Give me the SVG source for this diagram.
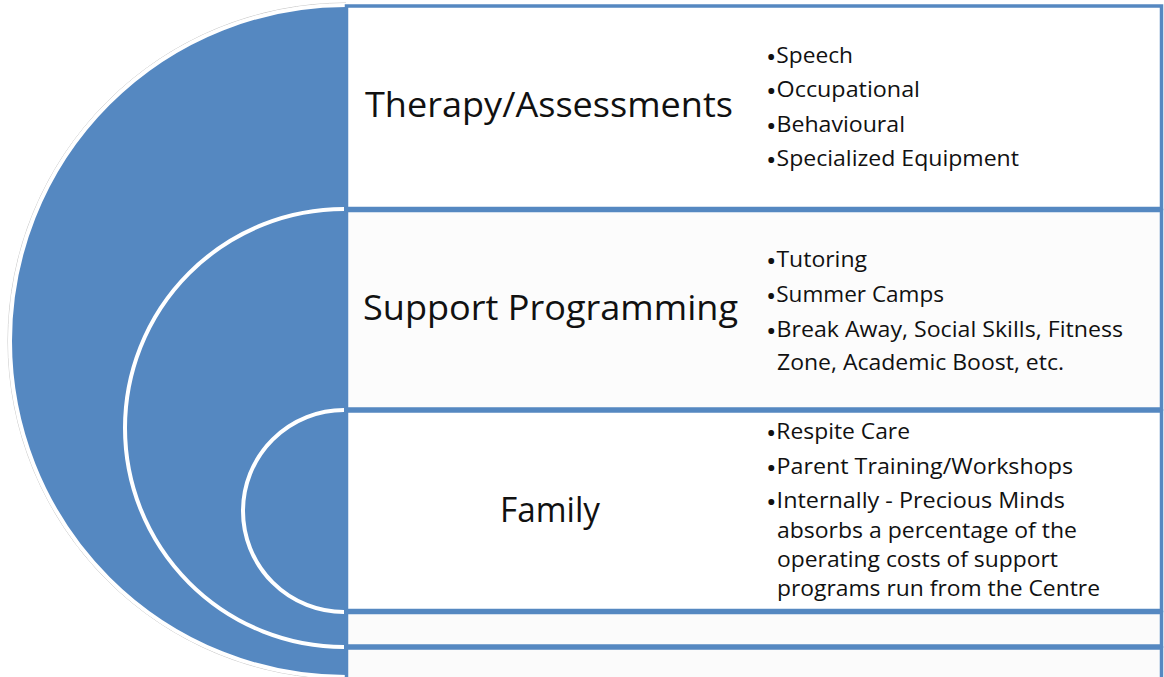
<svg xmlns="http://www.w3.org/2000/svg" width="1164" height="677" viewBox="0 0 1164 677">
<style>
.box{stroke:#5588c1;stroke-width:3.5}
.arc{fill:none;stroke:#ffffff;stroke-width:4;stroke-linecap:butt}
.title{font-family:"Open Sans","Noto Sans",sans-serif;font-size:35px;fill:#111}
.item{font-family:"Open Sans","Noto Sans",sans-serif;font-size:21.5px;fill:#111}
.b{font-size:26px}
</style>
<rect width="1164" height="677" fill="#ffffff"/>
<g id="disc">
<path d="M346,5 A336,336 0 0 0 346,677 Z" fill="#5588c1"/>
<path d="M346,3 A338,338 0 0 0 346,679" fill="none" stroke="#c8c8c8" stroke-width="1"/>
<path d="M346,5 A336,336 0 0 0 346,677" class="arc" stroke-width="3"/>
<path d="M344,209 A219,219 0 0 0 344,647" class="arc"/>
<path d="M344,410 A101,101 0 0 0 344,612" class="arc"/>
</g>
<g id="therapy">
<rect class="box" x="346.5" y="6" width="815" height="202.5" fill="#ffffff"/>
<text class="title" x="365" y="117" textLength="368" lengthAdjust="spacingAndGlyphs">Therapy/Assessments</text>
<text class="item" x="766" y="63" textLength="87" lengthAdjust="spacingAndGlyphs"><tspan class="b" dy="2.5">•</tspan><tspan dy="-2.5">Speech</tspan></text>
<text class="item" x="766" y="97" textLength="154" lengthAdjust="spacingAndGlyphs"><tspan class="b" dy="2.5">•</tspan><tspan dy="-2.5">Occupational</tspan></text>
<text class="item" x="766" y="132" textLength="139" lengthAdjust="spacingAndGlyphs"><tspan class="b" dy="2.5">•</tspan><tspan dy="-2.5">Behavioural</tspan></text>
<text class="item" x="766" y="166" textLength="253" lengthAdjust="spacingAndGlyphs"><tspan class="b" dy="2.5">•</tspan><tspan dy="-2.5">Specialized Equipment</tspan></text>
</g>
<g id="support">
<rect class="box" x="346.5" y="210.5" width="815" height="198.5" fill="#fcfcfc"/>
<text class="title" x="363" y="320" textLength="375" lengthAdjust="spacingAndGlyphs">Support Programming</text>
<text class="item" x="766" y="267" textLength="101" lengthAdjust="spacingAndGlyphs"><tspan class="b" dy="2.5">•</tspan><tspan dy="-2.5">Tutoring</tspan></text>
<text class="item" x="766" y="302" textLength="178" lengthAdjust="spacingAndGlyphs"><tspan class="b" dy="2.5">•</tspan><tspan dy="-2.5">Summer Camps</tspan></text>
<text class="item" x="766" y="337" textLength="357" lengthAdjust="spacingAndGlyphs"><tspan class="b" dy="2.5">•</tspan><tspan dy="-2.5">Break Away, Social Skills, Fitness</tspan></text>
<text class="item" x="777" y="370" textLength="287" lengthAdjust="spacingAndGlyphs">Zone, Academic Boost, etc.</text>
</g>
<g id="family">
<rect class="box" x="346.5" y="411" width="815" height="199.5" fill="#ffffff"/>
<text class="title" x="500" y="522" textLength="100" lengthAdjust="spacingAndGlyphs">Family</text>
<text class="item" x="766" y="439" textLength="144" lengthAdjust="spacingAndGlyphs"><tspan class="b" dy="2.5">•</tspan><tspan dy="-2.5">Respite Care</tspan></text>
<text class="item" x="766" y="474" textLength="307" lengthAdjust="spacingAndGlyphs"><tspan class="b" dy="2.5">•</tspan><tspan dy="-2.5">Parent Training/Workshops</tspan></text>
<text class="item" x="766" y="508" textLength="299" lengthAdjust="spacingAndGlyphs"><tspan class="b" dy="2.5">•</tspan><tspan dy="-2.5">Internally -  Precious Minds</tspan></text>
<text class="item" x="777" y="538" textLength="300" lengthAdjust="spacingAndGlyphs">absorbs a percentage of the</text>
<text class="item" x="777" y="567" textLength="281" lengthAdjust="spacingAndGlyphs">operating costs of support</text>
<text class="item" x="777" y="596" textLength="323" lengthAdjust="spacingAndGlyphs">programs run from the Centre</text>
</g>
<g id="strip">
<rect class="box" x="346.5" y="612.5" width="815" height="33.5" fill="#fbfbfb"/>
</g>
<g id="bottom">
<rect class="box" x="346.5" y="648" width="815" height="60" fill="#fbfbfb"/>
</g>
</svg>
